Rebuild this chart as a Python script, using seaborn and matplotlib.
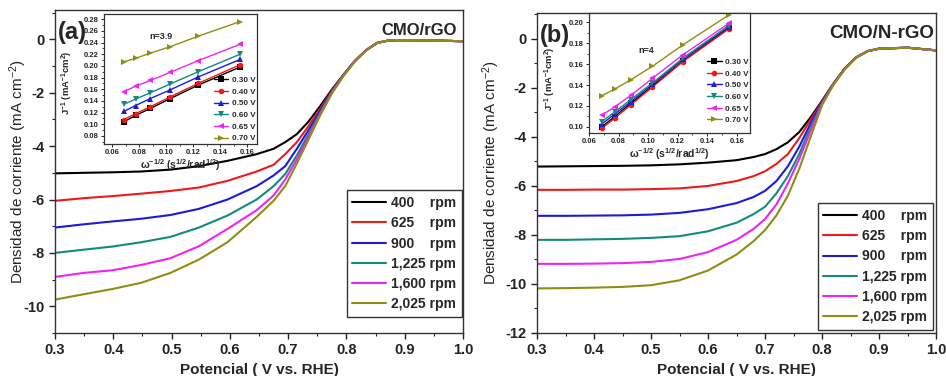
import numpy as np
import pandas as pd
import matplotlib
matplotlib.use("Agg")
import matplotlib.pyplot as plt
import seaborn as sns
from matplotlib.ticker import MultipleLocator

# ---------------- data ----------------
RPM_LABELS = ["400    rpm", "625    rpm", "900    rpm", "1,225 rpm", "1,600 rpm", "2,025 rpm"]
COLORS = ["#000000", "#ee1a1a", "#1c1cd8", "#138a80", "#f024f0", "#8e8e12"]

V_A = [0.300, 0.349, 0.399, 0.448, 0.498, 0.547, 0.596, 0.646, 0.675, 0.695, 0.715,
       0.735, 0.755, 0.775, 0.794, 0.814, 0.834, 0.853, 0.873, 0.893, 0.942, 1.000]
J_A_400 = [-5.02, -5.00, -4.98, -4.95, -4.88, -4.75, -4.55, -4.30, -4.10, -3.85, -3.55,
           -3.08, -2.50, -1.88, -1.35, -0.82, -0.40, -0.13, -0.04, -0.03, -0.04, -0.07]
J_A_625 = [-6.05, -5.95, -5.87, -5.78, -5.68, -5.55, -5.30, -4.95, -4.70, -4.30, -3.85,
           -3.25, -2.60, -1.92, -1.36, -0.82, -0.40, -0.13, -0.04, -0.03, -0.04, -0.07]
J_A_900 = [-7.05, -6.93, -6.82, -6.72, -6.58, -6.35, -6.00, -5.50, -5.10, -4.75, -4.10,
           -3.40, -2.68, -1.95, -1.37, -0.82, -0.40, -0.13, -0.04, -0.03, -0.04, -0.07]
J_A_1225 = [-8.00, -7.88, -7.76, -7.60, -7.40, -7.05, -6.60, -6.00, -5.50, -5.05, -4.35,
            -3.55, -2.75, -1.98, -1.38, -0.83, -0.40, -0.13, -0.04, -0.03, -0.04, -0.07]
J_A_1600 = [-8.90, -8.75, -8.65, -8.45, -8.20, -7.75, -7.10, -6.40, -5.85, -5.25, -4.50,
            -3.65, -2.80, -2.00, -1.39, -0.83, -0.41, -0.13, -0.04, -0.03, -0.04, -0.07]
J_A_2025 = [-9.75, -9.55, -9.35, -9.12, -8.75, -8.25, -7.60, -6.65, -6.05, -5.50, -4.65,
            -3.75, -2.85, -2.03, -1.40, -0.84, -0.41, -0.13, -0.04, -0.03, -0.04, -0.07]

V_B = [0.30, 0.35, 0.40, 0.45, 0.50, 0.55, 0.60, 0.65, 0.68, 0.70, 0.72,
       0.74, 0.76, 0.78, 0.80, 0.82, 0.84, 0.86, 0.88, 0.90, 0.95, 1.00]
J_B_400 = [-5.21, -5.20, -5.19, -5.18, -5.16, -5.12, -5.05, -4.95, -4.82, -4.70, -4.50,
           -4.22, -3.80, -3.20, -2.52, -1.82, -1.20, -0.75, -0.50, -0.40, -0.36, -0.47]
J_B_625 = [-6.16, -6.16, -6.15, -6.15, -6.13, -6.10, -6.00, -5.80, -5.60, -5.40, -5.10,
           -4.70, -4.05, -3.30, -2.55, -1.83, -1.21, -0.75, -0.50, -0.40, -0.36, -0.47]
J_B_900 = [-7.22, -7.22, -7.21, -7.20, -7.17, -7.10, -6.95, -6.70, -6.45, -6.20, -5.80,
           -5.20, -4.40, -3.45, -2.58, -1.84, -1.22, -0.76, -0.50, -0.40, -0.36, -0.47]
J_B_1225 = [-8.20, -8.20, -8.18, -8.16, -8.12, -8.05, -7.85, -7.50, -7.15, -6.85, -6.30,
            -5.60, -4.70, -3.60, -2.62, -1.85, -1.22, -0.76, -0.50, -0.40, -0.36, -0.47]
J_B_1600 = [-9.18, -9.18, -9.17, -9.15, -9.10, -8.98, -8.70, -8.20, -7.75, -7.35, -6.75,
            -5.90, -4.90, -3.75, -2.66, -1.86, -1.23, -0.76, -0.50, -0.40, -0.36, -0.47]
J_B_2025 = [-10.18, -10.17, -10.15, -10.12, -10.05, -9.85, -9.45, -8.80, -8.25, -7.80, -7.20,
            -6.40, -5.30, -4.00, -2.70, -1.87, -1.24, -0.77, -0.50, -0.40, -0.36, -0.47]

# Koutecky-Levich insets
KL_LABELS = ["0.30 V", "0.40 V", "0.50 V", "0.60 V", "0.65 V", "0.70 V"]
KL_MARKERS = ["s", "o", "^", "v", "<", ">"]
W_INV = [0.0687, 0.0773, 0.0883, 0.1030, 0.1236, 0.1545]
KL_A_030 = [0.104, 0.115, 0.127, 0.144, 0.167, 0.198]
KL_A_040 = [0.108, 0.118, 0.130, 0.147, 0.170, 0.202]
KL_A_050 = [0.122, 0.132, 0.144, 0.159, 0.181, 0.211]
KL_A_060 = [0.134, 0.143, 0.154, 0.169, 0.190, 0.220]
KL_A_065 = [0.156, 0.165, 0.175, 0.189, 0.209, 0.237]
KL_A_070 = [0.207, 0.213, 0.222, 0.233, 0.251, 0.276]

KL_B_030 = [0.1000, 0.1096, 0.1224, 0.1390, 0.1630, 0.1945]
KL_B_040 = [0.0984, 0.1080, 0.1210, 0.1380, 0.1625, 0.1936]
KL_B_050 = [0.1026, 0.1120, 0.1240, 0.1407, 0.1647, 0.1955]
KL_B_060 = [0.1050, 0.1140, 0.1260, 0.1420, 0.1657, 0.1970]
KL_B_065 = [0.1110, 0.1190, 0.1300, 0.1465, 0.1690, 0.1990]
KL_B_070 = [0.1298, 0.1360, 0.1450, 0.1580, 0.1785, 0.2070]

# ---------------- style ----------------
sns.set_style("ticks")
plt.rcParams["font.family"] = ["Liberation Sans", "DejaVu Sans"]
plt.rcParams["axes.unicode_minus"] = False
plt.rcParams["mathtext.default"] = "regular"
plt.rcParams["axes.edgecolor"] = "#333333"
plt.rcParams["axes.linewidth"] = 1.0

fig = plt.figure(figsize=(9.46, 3.76), dpi=100)
ax_a = fig.add_axes([0.0581, 0.1144, 0.4313, 0.859])
ax_b = fig.add_axes([0.5677, 0.1144, 0.4218, 0.852])


def long_df(v, curves, labels):
    rows = []
    for lab, j in zip(labels, curves):
        for vv, jj in zip(v, j):
            rows.append((vv, jj, lab))
    return pd.DataFrame(rows, columns=["V", "J", "rpm"])


df_a = long_df(V_A, [J_A_400, J_A_625, J_A_900, J_A_1225, J_A_1600, J_A_2025], RPM_LABELS)
df_b = long_df(V_B, [J_B_400, J_B_625, J_B_900, J_B_1225, J_B_1600, J_B_2025], RPM_LABELS)


def main_panel(ax, df, ylim, yticks, title, title_size, title_x, title_y, letter,
               leg_anchor, ylab_x):
    sns.lineplot(data=df, x="V", y="J", hue="rpm", hue_order=RPM_LABELS,
                 palette=COLORS, estimator=None, sort=False, linewidth=1.5, ax=ax)
    ax.set_xlim(0.3, 1.0)
    ax.set_ylim(*ylim)
    ax.set_xticks(np.arange(0.3, 1.01, 0.1))
    ax.set_xticklabels([f"{t:.1f}" for t in np.arange(0.3, 1.01, 0.1)])
    ax.xaxis.set_minor_locator(MultipleLocator(0.05))
    ax.set_yticks(yticks)
    ax.set_yticklabels([f"{t:d}" for t in yticks])
    ax.yaxis.set_minor_locator(MultipleLocator(1))
    ax.tick_params(which="major", direction="out", length=4, width=1, labelsize=10.5,
                   colors="#222222")
    ax.tick_params(which="minor", direction="out", length=2.5, width=0.8)
    for lab in ax.get_xticklabels() + ax.get_yticklabels():
        lab.set_fontweight("bold")
    ax.set_xlabel("Potencial ( V vs. RHE)", fontsize=11, fontweight="bold", labelpad=4,
                  family=["Liberation Sans Narrow", "Liberation Sans"])
    ax.set_ylabel("Densidad de corriente (mA cm$^{-2}$)", fontsize=11)
    ax.yaxis.set_label_coords(ylab_x, 0.5)
    h, l = ax.get_legend_handles_labels()
    leg = ax.legend(h, l, loc="lower right", bbox_to_anchor=leg_anchor, borderaxespad=0,
                    frameon=True, fancybox=False, edgecolor="#333333", framealpha=1,
                    prop={"weight": "bold", "size": 10}, handlelength=2.4,
                    handletextpad=0.4, labelspacing=0.45, borderpad=0.4)
    leg.get_frame().set_linewidth(1.0)
    ax.text(title_x, title_y, title, transform=ax.transAxes,
            ha="right", va="center", fontsize=title_size, fontweight="bold")
    ax.text(0.008, 0.93, letter, transform=ax.transAxes, ha="left", va="center",
            fontsize=17, fontweight="bold", zorder=10)


main_panel(ax_a, df_a, (-11, 1.1), list(range(-10, 1, 2)), "CMO/rGO", 12, 0.985, 0.938,
           "(a)", (0.997, 0.05), -0.064)
main_panel(ax_b, df_b, (-12, 1.07), list(range(-12, 1, 2)), "CMO/N-rGO", 13.5, 0.995,
           0.934, "(b)", (0.992, 0.01), -0.088)


def kl_df(curves):
    rows = []
    for lab, j in zip(KL_LABELS, curves):
        for w, jj in zip(W_INV, j):
            rows.append((w, jj, lab))
    return pd.DataFrame(rows, columns=["w", "Jinv", "E"])


def inset(rect, df, xlim, ylim, yticks, ntext, npos, leg_anchor, ylab_y):
    ai = fig.add_axes(rect)
    sns.lineplot(data=df, x="w", y="Jinv", hue="E", style="E", hue_order=KL_LABELS,
                 style_order=KL_LABELS, palette=COLORS, markers=KL_MARKERS, dashes=False,
                 markersize=4, markeredgewidth=0, linewidth=1.0, estimator=None,
                 sort=False, ax=ai)
    ai.set_xlim(*xlim)
    ai.set_ylim(*ylim)
    xt = [0.06, 0.08, 0.10, 0.12, 0.14, 0.16]
    ai.set_xticks(xt)
    ai.set_xticklabels([f"{t:.2f}" for t in xt])
    ai.set_yticks(yticks)
    ai.set_yticklabels([f"{t:.2f}" for t in yticks])
    ai.xaxis.set_minor_locator(MultipleLocator(0.01))
    ai.yaxis.set_minor_locator(MultipleLocator(0.01))
    ai.tick_params(which="major", direction="out", length=2, width=0.7, labelsize=5.5, pad=1.5)
    ai.tick_params(which="minor", direction="out", length=1.2, width=0.6)
    for lab in ai.get_xticklabels() + ai.get_yticklabels():
        lab.set_fontweight("bold")
    for s in ai.spines.values():
        s.set_linewidth(0.9)
    ai.set_xlabel("ω$^{-1/2}$ (s$^{1/2}$/rad$^{1/2}$)", fontsize=7.5, labelpad=1.0,
                  fontweight="bold")
    ai.set_ylabel("J$^{-1}$ (mA$^{-1}$cm$^{2}$)", fontsize=6.8, labelpad=1.0,
                  fontweight="bold")
    ai.yaxis.set_label_coords(-0.19, ylab_y)
    ai.text(npos[0], npos[1], ntext, fontsize=6.5, fontweight="bold", ha="center",
            va="center")
    h, l = ai.get_legend_handles_labels()
    ai.legend(h, l, loc="lower right", bbox_to_anchor=leg_anchor, borderaxespad=0,
              frameon=False, prop={"weight": "bold", "size": 5.8}, handlelength=1.8,
              handletextpad=0.4, labelspacing=0.5, borderpad=0.2)
    return ai


inset([0.1099, 0.617, 0.1617, 0.3457],
      kl_df([KL_A_030, KL_A_040, KL_A_050, KL_A_060, KL_A_065, KL_A_070]),
      (0.054, 0.167), (0.066, 0.289), [0.08, 0.10, 0.12, 0.14, 0.16, 0.18, 0.20, 0.22, 0.24, 0.26, 0.28],
      "n=3.9", (0.096, 0.251), (1.0, 0.0), 0.47)
inset([0.6226, 0.6463, 0.1702, 0.319],
      kl_df([KL_B_030, KL_B_040, KL_B_050, KL_B_060, KL_B_065, KL_B_070]),
      (0.06, 0.169), (0.094, 0.209), [0.10, 0.12, 0.14, 0.16, 0.18, 0.20],
      "n=4", (0.099, 0.173), (1.0, 0.06), 0.45)

fig.savefig("out.png", dpi=100)
